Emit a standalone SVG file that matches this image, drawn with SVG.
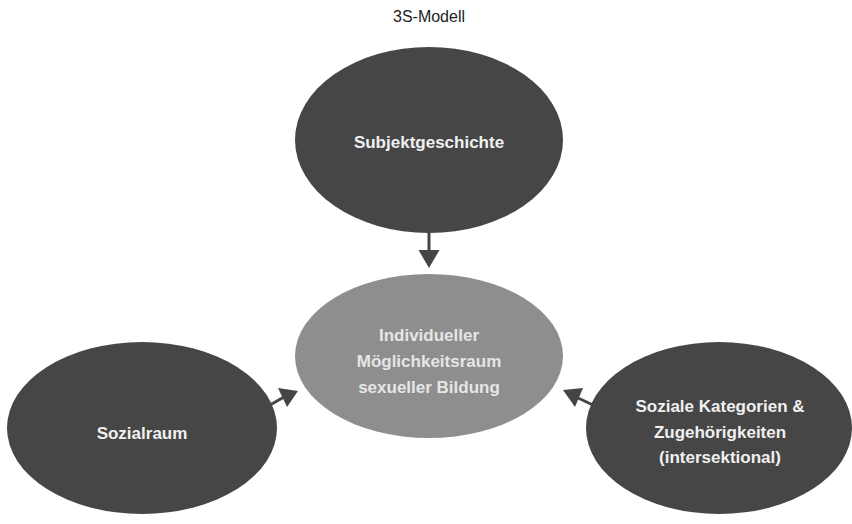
<svg xmlns="http://www.w3.org/2000/svg" width="852" height="524" viewBox="0 0 852 524">
<style>
.dark{fill:#464646}
.mid{fill:#8e8e8e}
.lbl{font-family:"Liberation Sans",Arial,sans-serif;font-weight:bold;font-size:17px;fill:#f0f0f0;text-anchor:middle}
.lbl2{font-family:"Liberation Sans",Arial,sans-serif;font-weight:bold;font-size:17px;fill:#e6e6e6;text-anchor:middle}
.title{font-family:"Liberation Sans",Arial,sans-serif;font-size:16px;fill:#222;text-anchor:middle}
.con{stroke:#454545;stroke-width:3;fill:none}
</style>
<defs>
<marker id="ah" markerWidth="10" markerHeight="10" refX="9" refY="5" orient="auto" markerUnits="userSpaceOnUse" viewBox="0 0 10 10">
<path d="M0,0 L10,5 L0,10 Z" fill="#454545"/>
</marker>
</defs>
<rect width="852" height="524" fill="#ffffff"/>
<text class="title" x="429" y="22">3S-Modell</text>
<g id="connectors">
<line class="con" x1="429" y1="233" x2="429" y2="252"/>
<path d="M418.5,250 L439.5,250 L429,268 Z" fill="#454545"/>
<line class="con" x1="270" y1="405" x2="284" y2="397"/>
<path d="M278,388 L298,391 L287,407 Z" fill="#454545"/>
<line class="con" x1="593" y1="405" x2="578" y2="398"/>
<path d="M563,390 L583,388 L575,407 Z" fill="#454545"/>
</g>
<g id="subjektgeschichte">
<ellipse class="dark" cx="429" cy="140" rx="134" ry="93"/>
<text class="lbl" x="429" y="148">Subjektgeschichte</text>
</g>
<g id="moeglichkeitsraum">
<ellipse class="mid" cx="429" cy="356" rx="134" ry="82"/>
<text class="lbl2" x="429" y="341">Individueller</text>
<text class="lbl2" x="429" y="367">Möglichkeitsraum</text>
<text class="lbl2" x="429" y="393">sexueller Bildung</text>
</g>
<g id="sozialraum">
<ellipse class="dark" cx="142" cy="428" rx="135" ry="86"/>
<text class="lbl" x="142" y="439">Sozialraum</text>
</g>
<g id="soziale-kategorien">
<ellipse class="dark" cx="719" cy="428" rx="133" ry="86"/>
<text class="lbl" x="720" y="412">Soziale Kategorien &amp;</text>
<text class="lbl" x="720" y="438">Zugehörigkeiten</text>
<text class="lbl" x="720" y="463">(intersektional)</text>
</g>
</svg>
